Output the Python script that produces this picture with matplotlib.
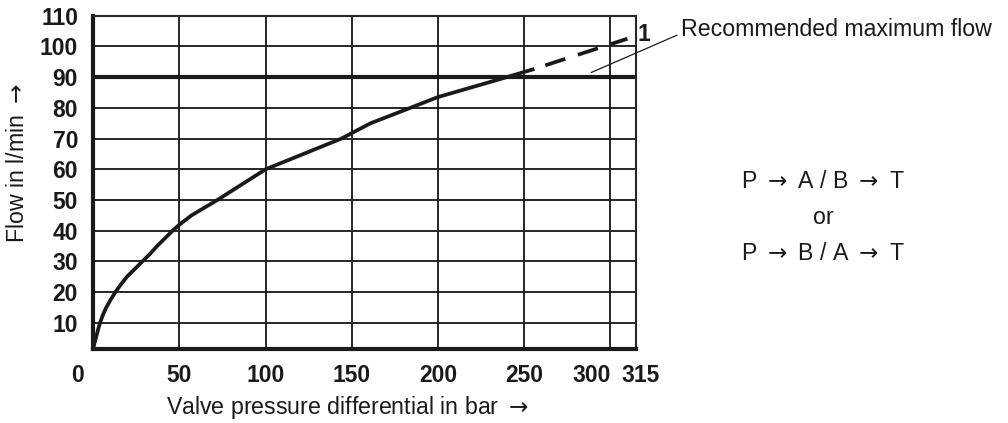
import matplotlib
matplotlib.use("Agg")
import matplotlib.pyplot as plt
import matplotlib.transforms as mtransforms

plt.rcParams['font.family'] = ['Liberation Sans', 'DejaVu Sans']
plt.rcParams['mathtext.fontset'] = 'dejavusans'

# flow curve, solid part and the dashed extension above the recommended limit
pressure = [0, 0.5, 1.5, 2.6, 3.9, 5.5, 7.5, 10, 12.8, 16, 19.5, 24, 28.5, 33, 37, 41.5, 46, 50,
            57, 72, 100, 144, 161, 184, 200, 240, 255]
flow = [1.5, 3, 5, 7.5, 10, 12.5, 15, 17.5, 20, 22.5, 25, 27.5, 30, 32.5, 35, 37.5, 40, 42,
        45, 50, 60, 70, 75, 80, 83.5, 90, 92.5]
pressure_dashed = [255, 310]
flow_dashed = [92.5, 102.5]

max_flow = 90
x_ticks = [0, 50, 100, 150, 200, 250, 300, 315]
y_ticks = [10, 20, 30, 40, 50, 60, 70, 80, 90, 100, 110]

ink = '#1a1a1a'
arrow = r'${\rightarrow}$'

fig = plt.figure(figsize=(10.08, 4.23), dpi=100)
ax = fig.add_axes([93.3 / 1008, 1 - 349 / 423, (636 - 93.3) / 1008, (349 - 15.7) / 423])

ax.set_xlim(0, 315)
ax.set_ylim(1.5, 110)

# grid
for gx in x_ticks[1:-1]:
    ax.axvline(gx, color='#262626', lw=1.4, zorder=1)
for gy in y_ticks[:-1]:
    if gy != max_flow:
        ax.axhline(gy, color='#262626', lw=1.4, zorder=1)
ax.axhline(max_flow, color=ink, lw=3.0, zorder=2)

ax.plot(pressure, flow, color=ink, lw=2.7, solid_joinstyle='round', zorder=3)
# dash pattern starts with a gap so the last dash ends on the point
ax.plot(pressure_dashed, flow_dashed, color=ink, lw=2.7, linestyle=(5.6, (5.6, 3.55)),
        dash_capstyle='butt', zorder=3)

for side in ['left', 'bottom']:
    ax.spines[side].set_linewidth(3.0)
    ax.spines[side].set_color(ink)
for side in ['right', 'top']:
    ax.spines[side].set_linewidth(1.5)
    ax.spines[side].set_color('#262626')

tick_font = dict(family=['Liberation Sans Narrow', 'Liberation Sans'], weight='bold', size=16.5)
ax.set_xticks(x_ticks)
ax.set_xticklabels([str(v) for v in x_ticks], **tick_font)
ax.set_yticks(y_ticks)
ax.set_yticklabels([str(v) for v in y_ticks], **tick_font)
ax.tick_params(length=0, colors=ink)
ax.tick_params(axis='x', pad=11)
ax.tick_params(axis='y', pad=11)

# nudge the crowded x labels apart
shifts = {0: -16, 300: -19, 315: 5}
for lbl, val in zip(ax.get_xticklabels(), x_ticks):
    if val in shifts:
        off = mtransforms.ScaledTranslation(shifts[val] / 100, 0, fig.dpi_scale_trans)
        lbl.set_transform(lbl.get_transform() + off)

fs = 16.7
fig.text(347 / 1008, 1 - 407 / 423, 'Valve pressure differential in bar ' + arrow,
         ha='center', va='center', fontsize=fs, color=ink)
fig.text(18 / 1008, 1 - 163 / 423, 'Flow in l/min ' + arrow, rotation=90,
         ha='center', va='center', fontsize=fs, color=ink)

# label for the dashed curve and the recommended flow
ax.text(316, 104, '1', fontsize=16.5, fontweight='bold', ha='left', va='center',
        family=['Liberation Sans Narrow', 'Liberation Sans'], color=ink, clip_on=False)
ax.annotate('Recommended maximum flow', xy=(289, 91.5), xytext=(681 / 1008, 1 - 30 / 423),
            textcoords='figure fraction', ha='left', va='center', fontsize=fs, color=ink,
            arrowprops=dict(arrowstyle='-', color=ink, lw=0.9, shrinkA=1, shrinkB=0,
                            relpos=(0, 0.35)))

fig.text(823 / 1008, 1 - 181 / 423, 'P ' + arrow + ' A / B ' + arrow + ' T', ha='center',
         va='center', fontsize=fs, color=ink)
fig.text(823 / 1008, 1 - 217 / 423, 'or', ha='center', va='center', fontsize=fs, color=ink)
fig.text(823 / 1008, 1 - 253 / 423, 'P ' + arrow + ' B / A ' + arrow + ' T', ha='center',
         va='center', fontsize=fs, color=ink)

fig.savefig('out.png', dpi=100)
